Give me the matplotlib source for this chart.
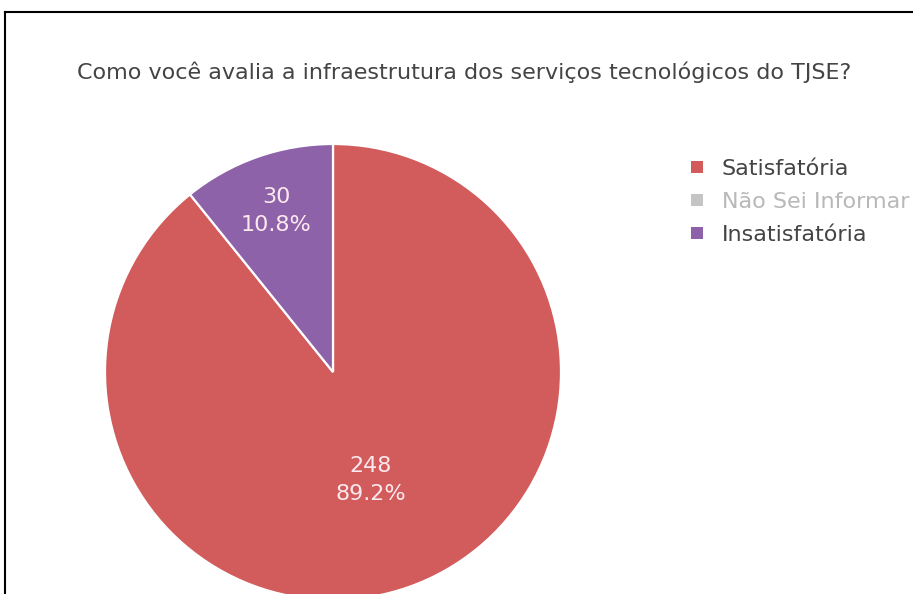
import numpy as np
import matplotlib.pyplot as plt
from matplotlib.lines import Line2D

# Data
categories = ["Satisfatória", "Não Sei Informar", "Insatisfatória"]
counts = [248, 0, 30]
visible = [True, False, True]
colors = ["#d25b5c", "#c4c4c4", "#8d62a9"]
title = "Como você avalia a infraestrutura dos serviços tecnológicos do TJSE?"

W, H = 913, 594
fig = plt.figure(figsize=(W / 100, H / 100), dpi=100)
ax = fig.add_axes([0, 0, 1, 1])

# pixel-like coordinates (y up)
cx, cy, r = 333, H - 372, 228
vals = [c for c, v in zip(counts, visible) if v]
cols = [c for c, v in zip(colors, visible) if v]
wedges, _ = ax.pie(vals, colors=cols, startangle=90, counterclock=False,
                   center=(cx, cy), radius=r,
                   wedgeprops=dict(edgecolor="white", linewidth=1.6))
ax.set_xlim(0, W)
ax.set_ylim(0, H)
ax.set_aspect("equal")
ax.axis("off")

total = sum(vals)
label_dist = [0.5, 0.75]
for w, val, d in zip(wedges, vals, label_dist):
    mid = np.deg2rad((w.theta1 + w.theta2) / 2)
    x = cx + d * r * np.cos(mid)
    y = cy + d * r * np.sin(mid)
    ax.text(x, y, "{}\n{:.1f}%".format(val, 100 * val / total),
            ha="center", va="center", color="#fbe9ee", fontsize=16,
            linespacing=1.5)

fig.text(464 / W, 1 - 72 / H, title, ha="center", va="center",
         fontsize=16, color="#444444")

# legend
handles = [Line2D([0], [0], marker="s", linestyle="none", markersize=8,
                  markerfacecolor=c if v else "#c4c4c4", markeredgewidth=0)
           for c, v in zip(colors, visible)]
leg = fig.legend(handles, categories, loc="upper left",
                 bbox_to_anchor=(678 / W, 1 - 150 / H), frameon=False,
                 fontsize=16, handlelength=0.9, handletextpad=0.66,
                 labelspacing=0.59, borderaxespad=0)
for t, v in zip(leg.get_texts(), visible):
    t.set_color("#444444" if v else "#b8b8b8")

# frame border (screenshot)
fig.add_artist(Line2D([5 / W, 5 / W], [0, 1 - 12 / H], color="black",
                      linewidth=1.5, transform=fig.transFigure))
fig.add_artist(Line2D([5 / W, 1], [1 - 12 / H, 1 - 12 / H], color="black",
                      linewidth=1.5, transform=fig.transFigure))

fig.savefig("out.png", dpi=100)
